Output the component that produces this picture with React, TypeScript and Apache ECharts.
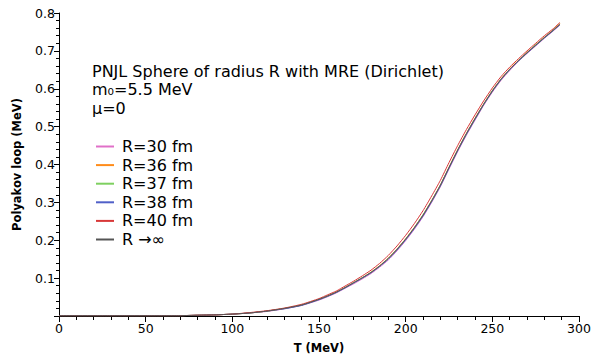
import React, { useEffect, useRef } from "react";
import * as echarts from "echarts";

const temps = [0, 10, 20, 30, 40, 50, 60, 70, 80, 90, 100, 110, 120, 130, 140,
  150, 155, 160, 165, 170, 175, 180, 185, 190, 195, 200, 205, 210, 215, 220, 225, 230, 235, 240, 245, 250, 255, 260, 265, 270, 275, 280, 285, 289];

const r30 = [0.001, 0.001, 0.001, 0.001, 0.001, 0.001, 0.001, 0.001, 0.002, 0.003, 0.005, 0.008, 0.012, 0.019, 0.028,
  0.042, 0.051, 0.061, 0.073, 0.085, 0.098, 0.112, 0.129, 0.148, 0.172, 0.199, 0.229, 0.262, 0.300, 0.341, 0.388, 0.434, 0.477, 0.517, 0.556, 0.591, 0.622, 0.648, 0.672, 0.693, 0.713, 0.733, 0.752, 0.768];
const r36 = [0.001, 0.001, 0.001, 0.001, 0.001, 0.001, 0.001, 0.001, 0.002, 0.003, 0.005, 0.008, 0.013, 0.020, 0.029,
  0.044, 0.053, 0.063, 0.075, 0.088, 0.101, 0.116, 0.133, 0.153, 0.177, 0.204, 0.234, 0.267, 0.305, 0.346, 0.393, 0.439, 0.482, 0.522, 0.560, 0.595, 0.626, 0.652, 0.675, 0.696, 0.716, 0.736, 0.755, 0.772];
const r37 = [0.001, 0.001, 0.001, 0.001, 0.001, 0.001, 0.001, 0.001, 0.002, 0.003, 0.005, 0.008, 0.013, 0.020, 0.029,
  0.044, 0.053, 0.063, 0.075, 0.088, 0.101, 0.115, 0.132, 0.152, 0.176, 0.203, 0.233, 0.267, 0.304, 0.345, 0.392, 0.438, 0.481, 0.521, 0.559, 0.595, 0.625, 0.651, 0.674, 0.695, 0.716, 0.735, 0.754, 0.771];
const r38 = [0.001, 0.001, 0.001, 0.001, 0.001, 0.001, 0.001, 0.001, 0.002, 0.003, 0.005, 0.008, 0.013, 0.019, 0.028,
  0.043, 0.052, 0.062, 0.074, 0.087, 0.100, 0.114, 0.131, 0.150, 0.174, 0.201, 0.231, 0.264, 0.302, 0.343, 0.390, 0.436, 0.479, 0.519, 0.558, 0.593, 0.624, 0.650, 0.673, 0.694, 0.714, 0.734, 0.753, 0.769];
const r40 = [0.001, 0.001, 0.001, 0.001, 0.001, 0.001, 0.001, 0.001, 0.002, 0.003, 0.005, 0.009, 0.014, 0.021, 0.031,
  0.046, 0.056, 0.066, 0.079, 0.092, 0.106, 0.121, 0.139, 0.160, 0.185, 0.213, 0.244, 0.278, 0.317, 0.358, 0.405, 0.450, 0.492, 0.531, 0.568, 0.602, 0.632, 0.657, 0.679, 0.700, 0.720, 0.740, 0.758, 0.775];
const rInf = [0.001, 0.001, 0.001, 0.001, 0.001, 0.001, 0.001, 0.001, 0.002, 0.003, 0.005, 0.008, 0.013, 0.020, 0.029,
  0.044, 0.053, 0.063, 0.075, 0.088, 0.101, 0.115, 0.132, 0.152, 0.176, 0.203, 0.233, 0.266, 0.304, 0.345, 0.392, 0.438, 0.481, 0.521, 0.559, 0.594, 0.625, 0.651, 0.674, 0.695, 0.715, 0.735, 0.754, 0.770];

const seriesNames = ["R=30 fm", "R=36 fm", "R=37 fm", "R=38 fm", "R=40 fm", "R \u2192\u221e"];
const seriesValues = [r30, r36, r37, r38, r40, rInf];
const seriesColors = ["#e070c8", "#ff8c1a", "#7ed060", "#5060c8", "#d83838", "#555555"];

const titleLines = ["PNJL Sphere of radius R with MRE (Dirichlet)", "m\u2080=5.5 MeV", "\u03bc=0"];

const FONT = "DejaVu Sans";

export default function App() {
  const ref = useRef<HTMLDivElement>(null);
  useEffect(() => {
    if (!ref.current) return;
    const chart = echarts.init(ref.current, undefined, { renderer: "svg" });
    const axisLine = { show: true, lineStyle: { color: "#000", width: 1 } };
    chart.setOption({
      animation: false,
      backgroundColor: "#fff",
      grid: { left: 59, right: 15, top: 13, bottom: 40 },
      legend: {
        orient: "vertical",
        left: 91,
        top: 133.5,
        itemWidth: 18,
        itemHeight: 2,
        itemGap: 2.6,
        icon: "rect",
        data: seriesNames,
        textStyle: { fontFamily: FONT, fontSize: 16, color: "#000", padding: [0, 0, 0, 3], lineHeight: 15 },
      },
      graphic: titleLines.map((t, i) => ({
        type: "text",
        left: 92,
        top: 63 + i * 18.5,
        style: { text: t, fontFamily: FONT, fontSize: 16, fill: "#000" },
      })),
      xAxis: {
        type: "value",
        min: 0,
        max: 300,
        interval: 50,
        name: "T (MeV)",
        nameLocation: "middle",
        nameGap: 26,
        nameTextStyle: { fontFamily: FONT, fontSize: 11.5, fontWeight: "bold", color: "#000" },
        axisLine,
        axisTick: { show: true, length: 6, lineStyle: { color: "#000" } },
        minorTick: { show: true, splitNumber: 5, length: 4, lineStyle: { color: "#000" } },
        axisLabel: { fontFamily: FONT, fontSize: 12.5, color: "#000", margin: 6 },
        splitLine: { show: false },
      },
      yAxis: {
        type: "value",
        min: 0,
        max: 0.8,
        interval: 0.1,
        name: "Polyakov loop (MeV)",
        nameLocation: "middle",
        nameGap: 36,
        nameTextStyle: { fontFamily: FONT, fontSize: 11.5, fontWeight: "bold", color: "#000" },
        axisLine,
        axisTick: { show: true, length: 5, lineStyle: { color: "#000" } },
        minorTick: { show: true, splitNumber: 5, length: 3, lineStyle: { color: "#000" } },
        axisLabel: { fontFamily: FONT, fontSize: 12.5, color: "#000", margin: 4, showMinLabel: false, formatter: (v: number) => v.toFixed(1) },
        splitLine: { show: false },
      },
      series: seriesNames.map((name, i) => ({
        name,
        type: "line",
        data: temps.map((t, j) => [t, seriesValues[i][j]]),
        showSymbol: false,
        symbol: "none",
        smooth: 0.2,
        color: seriesColors[i],
        lineStyle: { width: 1, color: seriesColors[i] },
      })),
    });
    return () => chart.dispose();
  }, []);
  return <div ref={ref} style={{ width: 594, height: 359, position: "absolute", left: 0, top: 0 }} />;
}
